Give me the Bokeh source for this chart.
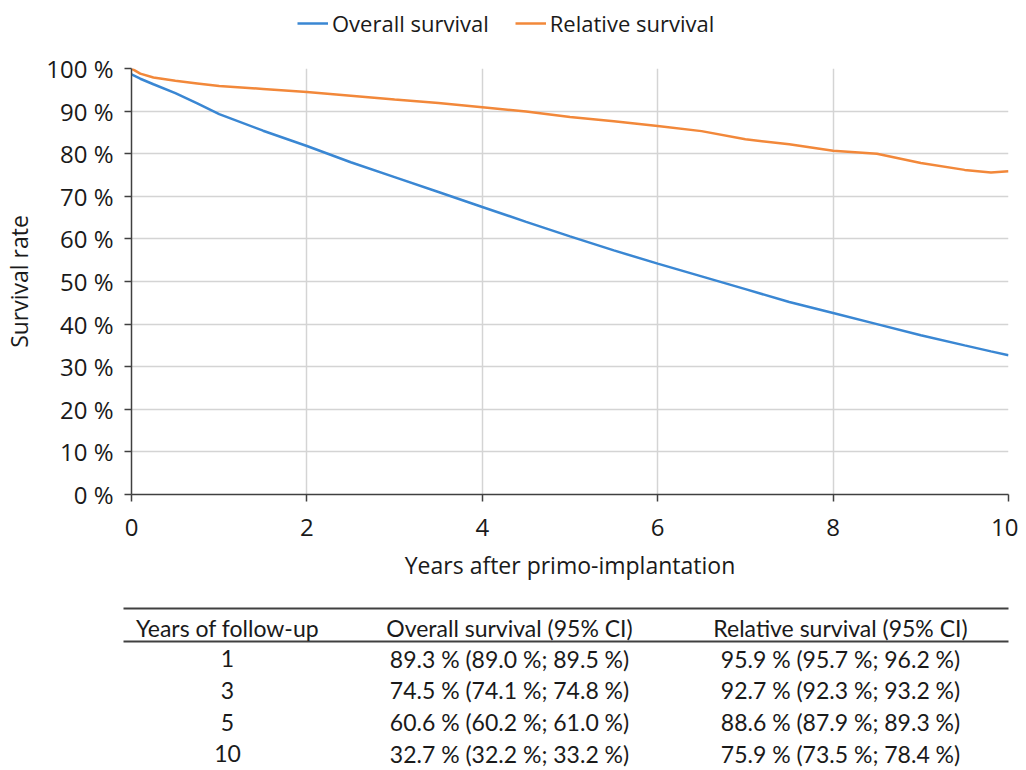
from bokeh.plotting import figure
from bokeh.models import Range1d, FixedTicker, Legend, LegendItem
from bokeh.layouts import column
from bokeh.embed import file_html
from bokeh.resources import INLINE
from bokeh.core.properties import value

# ---- data ----
years = [0, 0.1, 0.25, 0.5, 0.75, 1, 1.5, 2, 2.5, 3, 3.5, 4, 4.5, 5,
         5.5, 6, 6.5, 7, 7.5, 8, 8.5, 9, 9.5, 9.8, 10]
overall = [98.6, 97.6, 96.3, 94.2, 91.8, 89.3, 85.4, 81.8, 78.0, 74.5, 71.0, 67.5, 64.0, 60.6,
           57.3, 54.2, 51.2, 48.2, 45.2, 42.6, 40.0, 37.4, 35.0, 33.6, 32.7]
relative = [100.0, 98.8, 97.9, 97.1, 96.5, 95.9, 95.2, 94.5, 93.6, 92.7, 91.9, 90.9, 89.9, 88.6,
            87.6, 86.5, 85.3, 83.4, 82.2, 80.7, 80.0, 77.8, 76.2, 75.6, 75.9]

x_ticks = [0, 2, 4, 6, 8, 10]
x_tick_labels = ["0", "2", "4", "6", "8", "10"]
y_ticks = [0, 10, 20, 30, 40, 50, 60, 70, 80, 90, 100]
y_tick_labels = ["0 %", "10 %", "20 %", "30 %", "40 %", "50 %", "60 %", "70 %", "80 %", "90 %", "100 %"]

series_names = ["Overall survival", "Relative survival"]

table_header = ["Years of follow-up", "Overall survival (95% CI)", "Relative survival (95% CI)"]
fu_years = [1, 3, 5, 10]
os_est = [89.3, 74.5, 60.6, 32.7]
os_lo = [89.0, 74.1, 60.2, 32.2]
os_hi = [89.5, 74.8, 61.0, 33.2]
rs_est = [95.9, 92.7, 88.6, 75.9]
rs_lo = [95.7, 92.3, 87.9, 73.5]
rs_hi = [96.2, 93.2, 89.3, 78.4]

BLUE = "#3A87D3"
ORANGE = "#F2883A"
TXT = "#1a1a1a"
FONT = "Open Sans"
TFONT = "Lato"
W = 1018

# ---- legend strip (its own small figure; the series lie outside its view) ----
lg = figure(width=W, height=48, output_backend="svg", toolbar_location=None,
            x_range=Range1d(100, 101), y_range=Range1d(0, 1),
            x_axis_type=None, y_axis_type=None, min_border=0, frame_align=False)
lg.outline_line_color = None
lg.grid.visible = False
d1 = lg.line(years, overall, line_color=BLUE, line_width=2.5)
d2 = lg.line(years, relative, line_color=ORANGE, line_width=2.5)
legend = Legend(items=[LegendItem(label=series_names[0], renderers=[d1]),
                       LegendItem(label=series_names[1], renderers=[d2])],
                orientation="horizontal", location=(297, 10))
legend.border_line_color = None
legend.background_fill_alpha = 0
legend.padding = 0
legend.margin = 0
legend.glyph_width = 31
legend.label_standoff = 4
legend.spacing = 26
legend.label_text_font = FONT
legend.label_text_font_size = "22px"
legend.label_text_color = TXT
lg.add_layout(legend)

# ---- chart ----
p = figure(width=W, height=550, output_backend="svg", toolbar_location=None,
           x_range=Range1d(0, 10), y_range=Range1d(0, 100), frame_align=False,
           min_border_left=130, min_border_right=10, min_border_top=20, min_border_bottom=104)
p.outline_line_color = None

p.line(years, overall, line_color=BLUE, line_width=2.5)
p.line(years, relative, line_color=ORANGE, line_width=2.5)

p.xaxis.ticker = FixedTicker(ticks=x_ticks)
p.yaxis.ticker = FixedTicker(ticks=y_ticks)
p.xaxis.major_label_overrides = {t: l for t, l in zip(x_ticks, x_tick_labels)}
p.yaxis.major_label_overrides = {t: l for t, l in zip(y_ticks, y_tick_labels)}
p.axis.minor_tick_line_color = None
p.axis.major_tick_in = 0
p.axis.major_tick_out = 7
p.axis.major_tick_line_color = "#404040"
p.axis.major_tick_line_width = 1.5
p.axis.axis_line_color = "#404040"
p.axis.axis_line_width = 1.5
p.axis.major_label_text_font = FONT
p.axis.major_label_text_font_size = "24px"
p.axis.major_label_text_color = TXT
p.axis.axis_label_text_font = FONT
p.axis.axis_label_text_font_size = "23px"
p.axis.axis_label_text_font_style = "normal"
p.axis.axis_label_text_color = TXT
p.xaxis.major_label_standoff = 17
p.yaxis.major_label_standoff = 11
p.xaxis.axis_label = "Years after primo-implantation"
p.yaxis.axis_label = "Survival rate"
p.xaxis.axis_label_standoff = 10
p.yaxis.axis_label_standoff = 8

p.grid.grid_line_color = "#D4D4D4"
p.grid.grid_line_width = 1.5

# ---- table ----
t = figure(width=W, height=172, output_backend="svg", toolbar_location=None,
           x_range=Range1d(0, W), y_range=Range1d(770, 598), frame_align=False,
           x_axis_type=None, y_axis_type=None, min_border=0)
t.outline_line_color = None
t.grid.visible = False

col_x = [227, 509, 840]
header_y = 627
row_y0 = 658
row_dy = 31.8
t.segment(x0=[123, 123], y0=[608, 641], x1=[1008, 1008], y1=[608, 641],
          line_color="#404040", line_width=2)

t.text(x=col_x, y=[header_y] * 3, text=table_header, text_align="center",
       text_baseline="middle", text_font=value(TFONT), text_font_size="23px", text_color=TXT)

col1 = [str(y) for y in fu_years]
col2 = [f"{e:.1f} % ({l:.1f} %; {h:.1f} %)" for e, l, h in zip(os_est, os_lo, os_hi)]
col3 = [f"{e:.1f} % ({l:.1f} %; {h:.1f} %)" for e, l, h in zip(rs_est, rs_lo, rs_hi)]
rows_y = [row_y0 + i * row_dy for i in range(len(fu_years))]
for cx, txt in zip(col_x, [col1, col2, col3]):
    t.text(x=[cx] * len(txt), y=rows_y, text=txt, text_align="center",
           text_baseline="middle", text_font=value(TFONT), text_font_size="23px", text_color=TXT)

layout = column(lg, p, t, spacing=0)
open("out.html", "w").write(file_html(layout, INLINE))
